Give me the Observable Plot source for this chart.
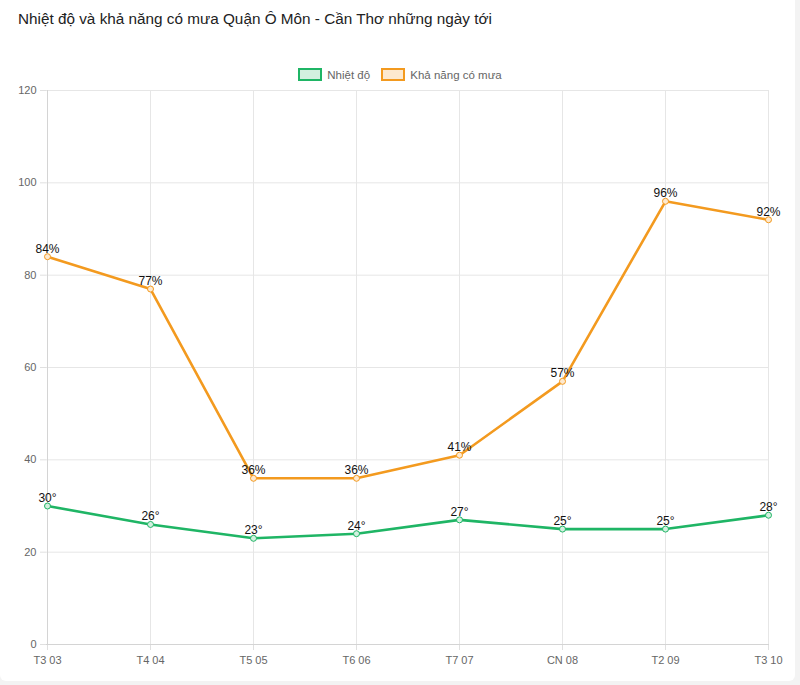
<!DOCTYPE html>
<html><head><meta charset="utf-8">
<script src="https://cdn.jsdelivr.net/npm/d3@7"></script>
<script src="https://cdn.jsdelivr.net/npm/@observablehq/plot@0.6"></script>
<style>
html,body{margin:0;padding:0;background:#f3f3f3;}
#card{position:absolute;left:0;top:0;width:795px;height:681px;background:#fff;border-radius:0 0 6px 6px;font-family:"Liberation Sans",Arial,Helvetica,sans-serif;}
#title{position:absolute;left:18px;top:10px;font-size:15.3px;color:#222;white-space:nowrap;}
#legend{position:absolute;left:0;top:68px;width:800px;text-align:center;font-size:11.5px;color:#666;}
.li{display:inline-flex;align-items:center;margin:0 4px;}
.sw{display:inline-block;width:20px;height:9px;border:2.5px solid;margin-right:5px;}
#chart{position:absolute;left:0;top:85px;width:800px;}
</style></head><body>
<div id="card">
<div id="title">Nhiệt độ và khả năng có mưa Quận Ô Môn - Cần Thơ những ngày tới</div>
<div id="legend">
<span class="li"><span class="sw" style="border-color:#1fb565;background:#d2f0df"></span>Nhiệt độ</span>
<span class="li"><span class="sw" style="border-color:#f39a1f;background:#fde9cf"></span>Khả năng có mưa</span>
</div>
<div id="chart"></div>
</div>
<script>
const days = ["T3 03","T4 04","T5 05","T6 06","T7 07","CN 08","T2 09","T3 10"];
const temps = [30,26,23,24,27,25,25,28];
const rain = [84,77,36,36,41,57,96,92];
const yTicks = [0,20,40,60,80,100,120];

const tData = days.map((d,i)=>({day:d, v:temps[i], label:temps[i]+"°"}));
const rData = days.map((d,i)=>({day:d, v:rain[i], label:rain[i]+"%"}));
const green = "#1fb565", orange = "#f39a1f";

const plot = Plot.plot({
  width: 800, height: 600,
  marginLeft: 46, marginRight: 31, marginTop: 5, marginBottom: 41,
  style: {fontFamily: "'Liberation Sans', Arial, sans-serif", fontSize: "11px", background: "transparent", overflow: "visible"},
  x: {type: "point", domain: days, padding: 0, label: null},
  y: {domain: [0,120], label: null},
  marks: [
    Plot.ruleY(yTicks, {stroke: "#e6e6e6"}),
    Plot.ruleX(days, {y1: 0, y2: 120, stroke: "#e6e6e6"}),
    Plot.axisY({ticks: yTicks, tickSize: 6, tickPadding: 4, stroke: "#e0e0e0", color: "#666", fontSize: 11, label: null}),
    Plot.axisX({tickSize: 6, tickPadding: 6, stroke: "#e0e0e0", color: "#666", fontSize: 11, label: null}),
    Plot.ruleY([0], {stroke: "#d4d4d4"}),
    Plot.ruleX([days[0]], {y1: 0, y2: 120, stroke: "#d4d4d4"}),
    Plot.line(rData, {x: "day", y: "v", stroke: orange, strokeWidth: 2.6}),
    Plot.line(tData, {x: "day", y: "v", stroke: green, strokeWidth: 2.6}),
    Plot.dot(rData, {x: "day", y: "v", r: 3, stroke: orange, fill: "#fde9cf", strokeWidth: 1}),
    Plot.dot(tData, {x: "day", y: "v", r: 3, stroke: green, fill: "#d2f0df", strokeWidth: 1}),
    Plot.text(rData, {x: "day", y: "v", text: "label", dy: -8, fill: "#111", fontSize: 12}),
    Plot.text(tData, {x: "day", y: "v", text: "label", dy: -8, fill: "#111", fontSize: 12})
  ]
});
document.getElementById("chart").appendChild(plot);
</script>
</body></html>
